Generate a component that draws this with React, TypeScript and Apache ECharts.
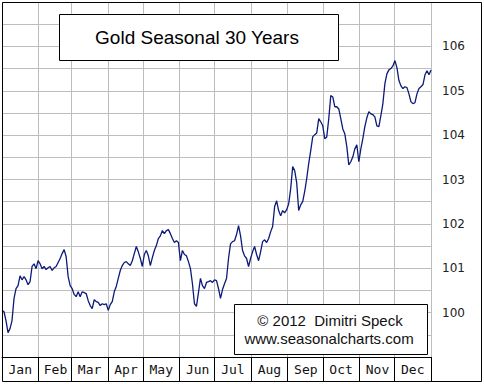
import React, { useEffect, useRef } from 'react';
import * as echarts from 'echarts';

const monthNames = ['Jan', 'Feb', 'Mar', 'Apr', 'May', 'Jun', 'Jul', 'Aug', 'Sep', 'Oct', 'Nov', 'Dec'];
const monthLengths = [31, 28, 31, 30, 31, 30, 31, 31, 30, 31, 30, 31];
const yTickLabels = [100, 101, 102, 103, 104, 105, 106];

const goldSeasonal = [
  100.05, 100.02, 99.82, 99.55, 99.64, 99.82, 100.32, 100.54, 100.61, 100.83,
  100.74, 100.81, 100.74, 100.63, 100.70, 101.04, 101.10, 100.99, 101.17, 101.10,
  100.99, 101.04, 100.97, 101.01, 101.04, 100.95, 101.01, 101.04, 101.13, 101.22,
  101.33, 101.42, 101.26, 100.81, 100.61, 100.54, 100.41, 100.36, 100.47, 100.36,
  100.47, 100.45, 100.43, 100.27, 100.16, 100.09, 100.29, 100.25, 100.23, 100.16,
  100.20, 100.18, 100.20, 100.05, 100.18, 100.25, 100.47, 100.59, 100.77, 100.95,
  101.06, 101.13, 101.15, 101.10, 101.06, 101.17, 101.33, 101.49, 101.37, 101.22,
  101.04, 101.31, 101.40, 101.28, 101.06, 101.24, 101.40, 101.51, 101.67, 101.73,
  101.85, 101.78, 101.85, 101.87, 101.78, 101.67, 101.58, 101.62, 101.58, 101.17,
  101.40, 101.31, 101.28, 101.15, 100.99, 100.65, 100.20, 100.14, 100.45, 100.77,
  100.61, 100.54, 100.68, 100.70, 100.72, 100.68, 100.74, 100.72, 100.54, 100.32,
  100.52, 100.65, 100.77, 101.22, 101.55, 101.60, 101.62, 101.76, 101.96, 101.73,
  101.40, 101.28, 101.22, 101.04, 101.22, 101.37, 101.49, 101.31, 101.17, 101.37,
  101.60, 101.64, 101.58, 101.67, 101.82, 101.94, 102.39, 102.52, 102.30, 102.18,
  102.30, 102.25, 102.32, 102.45, 102.79, 103.29, 103.20, 102.93, 102.30, 102.43,
  102.50, 102.73, 103.02, 103.36, 103.65, 103.96, 104.01, 104.05, 104.37, 104.30,
  104.21, 103.92, 103.96, 104.37, 104.89, 104.86, 104.64, 104.64, 104.59, 104.37,
  104.14, 104.03, 103.74, 103.33, 103.40, 103.51, 103.69, 103.78, 103.40, 103.69,
  103.92, 104.19, 104.39, 104.53, 104.48, 104.46, 104.41, 104.21, 104.19, 104.44,
  104.71, 105.16, 105.38, 105.47, 105.50, 105.56, 105.68, 105.52, 105.23, 105.11,
  105.05, 105.09, 105.07, 104.93, 104.75, 104.71, 104.73, 104.93, 105.05, 105.09,
  105.14, 105.36, 105.45, 105.36, 105.47,
];

const titleText = 'Gold Seasonal 30 Years';
const creditLine1 = '\u00A9 2012  Dimitri Speck';
const creditLine2 = 'www.seasonalcharts.com';

export default function App() {
  const ref = useRef<HTMLDivElement>(null);

  useEffect(() => {
    document.body.style.margin = '0';
    if (!ref.current) return;
    const chart = echarts.init(ref.current, undefined, { renderer: 'svg' });

    const monthStarts: number[] = [];
    let acc = 0;
    monthLengths.forEach((l) => {
      monthStarts.push(acc);
      acc += l;
    });
    const totalDays = acc;
    const monthMid = monthStarts.map((s, i) => s + Math.floor(monthLengths[i] / 2));
    const startSet = new Set(monthStarts);
    const dayCats = Array.from({ length: totalDays }, (_, i) => String(i));
    const idxCats = goldSeasonal.map((_, i) => String(i));

    chart.setOption({
      animation: false,
      backgroundColor: '#ffffff',
      grid: { left: 2, top: 2, width: 429, height: 355, containLabel: false },
      xAxis: [
        {
          type: 'category',
          position: 'bottom',
          data: dayCats,
          boundaryGap: true,
          axisLine: { show: true, lineStyle: { color: '#000', width: 1 } },
          axisTick: {
            show: true,
            length: 24,
            interval: (idx: number) => startSet.has(idx),
            lineStyle: { color: '#000', width: 1 },
          },
          axisLabel: {
            show: true,
            interval: (idx: number) => monthMid.includes(idx),
            formatter: (val: string) => {
              const k = monthMid.indexOf(Number(val));
              return k >= 0 ? monthNames[k] : '';
            },
            margin: 6,
            fontFamily: 'DejaVu Sans Mono',
            fontSize: 13,
            color: '#111',
          },
          splitLine: {
            show: true,
            interval: (idx: number) => startSet.has(idx),
            lineStyle: { color: '#bdbdbd', width: 1 },
          },
        },
        {
          type: 'category',
          position: 'top',
          show: false,
          data: idxCats,
          boundaryGap: false,
        },
      ],
      yAxis: {
        type: 'value',
        position: 'right',
        min: 99,
        max: 107,
        interval: 0.5,
        axisLine: { show: false },
        axisTick: { show: false },
        axisLabel: {
          margin: 11,
          formatter: (v: number) => (yTickLabels.includes(v) ? String(v) : ''),
          fontFamily: 'DejaVu Sans',
          fontSize: 12,
          color: '#222',
        },
        splitLine: { show: true, lineStyle: { color: '#bdbdbd', width: 1 } },
      },
      series: [
        {
          type: 'line',
          xAxisIndex: 1,
          data: goldSeasonal,
          symbol: 'none',
          lineStyle: { color: '#0c1a78', width: 1.3 },
          z: 5,
        },
      ],
      graphic: [
        {
          type: 'rect',
          z: 100,
          silent: true,
          shape: { x: 2.5, y: 2.5, width: 479, height: 379 },
          style: { fill: 'none', stroke: '#000', lineWidth: 1 },
        },
        {
          type: 'rect',
          z: 100,
          shape: { x: 59.5, y: 14.5, width: 279, height: 46 },
          style: { fill: '#fff', stroke: '#000', lineWidth: 1 },
        },
        {
          type: 'text',
          z: 101,
          x: 197,
          y: 37,
          style: {
            text: titleText,
            fill: '#000',
            font: '19px "Liberation Sans", Arial, sans-serif',
            align: 'center',
            verticalAlign: 'middle',
          },
        },
        {
          type: 'rect',
          z: 100,
          shape: { x: 234.5, y: 304.5, width: 193, height: 50 },
          style: { fill: '#fff', stroke: '#000', lineWidth: 1 },
        },
        {
          type: 'text',
          z: 101,
          x: 330,
          y: 320,
          style: {
            text: creditLine1,
            fill: '#111',
            font: '15px "Liberation Sans", Arial, sans-serif',
            align: 'center',
            verticalAlign: 'middle',
          },
        },
        {
          type: 'text',
          z: 101,
          x: 329,
          y: 338,
          style: {
            text: creditLine2,
            fill: '#111',
            font: '15px "Liberation Sans", Arial, sans-serif',
            align: 'center',
            verticalAlign: 'middle',
          },
        },
      ],
    });

    return () => chart.dispose();
  }, []);

  return (
    <div
      ref={ref}
      style={{ position: 'absolute', left: 0, top: 0, width: 484, height: 384 }}
    />
  );
}
